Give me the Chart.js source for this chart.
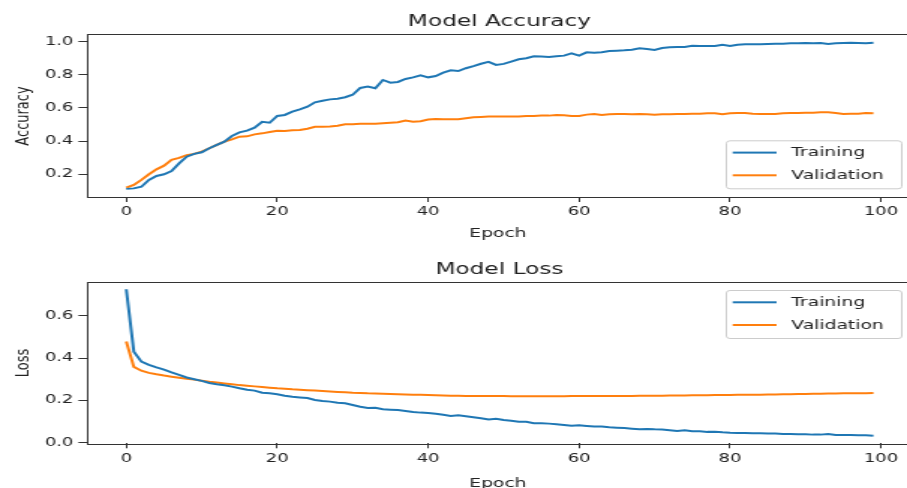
<!DOCTYPE html>
<html><head><meta charset="utf-8">
<script src="https://cdn.jsdelivr.net/npm/chart.js@4.4.1/dist/chart.umd.min.js"></script>
<style>
html,body{margin:0;padding:0;background:#fff;}
#wrap{position:relative;width:907px;height:488px;overflow:hidden;background:#fff;}
canvas{position:absolute;left:0;transform-origin:0 0;transform:scaleX(1.49917);}
#acc{top:0;}
#loss{top:244px;}
</style></head><body>
<div id="wrap">
<canvas id="acc" width="605" height="244"></canvas>
<canvas id="loss" width="605" height="250"></canvas>
</div>
<script>
const epochs = [0,1,2,3,4,5,6,7,8,9,10,11,12,13,14,15,16,17,18,19,20,21,22,23,24,25,26,27,28,29,30,31,32,33,34,35,36,37,38,39,40,41,42,43,44,45,46,47,48,49,50,51,52,53,54,55,56,57,58,59,60,61,62,63,64,65,66,67,68,69,70,71,72,73,74,75,76,77,78,79,80,81,82,83,84,85,86,87,88,89,90,91,92,93,94,95,96,97,98,99];

const accTrain = [0.112,0.115,0.125,0.166,0.19,0.2,0.22,0.266,0.306,0.323,
0.333,0.357,0.377,0.397,0.431,0.453,0.463,0.481,0.517,0.511,
0.552,0.558,0.578,0.592,0.608,0.634,0.644,0.652,0.656,0.665,
0.68,0.721,0.729,0.719,0.769,0.753,0.757,0.775,0.785,0.797,
0.785,0.793,0.813,0.827,0.823,0.84,0.853,0.867,0.878,0.86,
0.866,0.88,0.894,0.9,0.912,0.91,0.908,0.912,0.916,0.93,
0.916,0.936,0.934,0.936,0.944,0.946,0.948,0.952,0.96,0.956,
0.95,0.962,0.966,0.968,0.968,0.976,0.974,0.974,0.974,0.982,
0.974,0.982,0.984,0.984,0.984,0.986,0.988,0.988,0.99,0.99,
0.992,0.99,0.992,0.986,0.99,0.992,0.994,0.992,0.99,0.994];

const accVal = [0.12,0.136,0.166,0.2,0.23,0.252,0.287,0.299,0.315,0.323,
0.337,0.357,0.377,0.397,0.411,0.427,0.429,0.441,0.447,0.455,
0.463,0.461,0.466,0.467,0.475,0.487,0.487,0.489,0.493,0.502,
0.502,0.505,0.505,0.505,0.508,0.511,0.514,0.524,0.517,0.52,
0.53,0.534,0.532,0.532,0.532,0.538,0.544,0.546,0.548,0.548,
0.548,0.548,0.548,0.552,0.552,0.554,0.554,0.558,0.556,0.552,
0.552,0.56,0.564,0.558,0.562,0.564,0.564,0.562,0.564,0.562,
0.56,0.562,0.562,0.564,0.564,0.566,0.566,0.568,0.568,0.562,
0.568,0.57,0.57,0.566,0.564,0.564,0.564,0.568,0.57,0.57,
0.572,0.572,0.574,0.574,0.57,0.564,0.566,0.566,0.57,0.568];

const lossTrain = [0.725,0.43,0.383,0.368,0.356,0.345,0.332,0.32,0.308,0.3,
0.292,0.282,0.276,0.271,0.265,0.257,0.25,0.246,0.236,0.233,
0.229,0.222,0.217,0.214,0.211,0.202,0.197,0.194,0.189,0.186,
0.178,0.17,0.164,0.165,0.158,0.156,0.154,0.15,0.145,0.142,
0.14,0.137,0.132,0.126,0.129,0.125,0.12,0.115,0.11,0.113,
0.107,0.104,0.099,0.099,0.092,0.092,0.09,0.087,0.084,0.08,
0.082,0.079,0.076,0.076,0.073,0.071,0.069,0.066,0.063,0.065,
0.063,0.062,0.059,0.055,0.059,0.054,0.054,0.051,0.052,0.049,
0.047,0.046,0.046,0.044,0.044,0.043,0.043,0.041,0.041,0.04,
0.04,0.038,0.038,0.041,0.036,0.036,0.036,0.035,0.035,0.033];

const lossVal = [0.478,0.358,0.34,0.33,0.323,0.317,0.312,0.307,0.302,0.298,
0.293,0.288,0.284,0.28,0.276,0.272,0.269,0.266,0.263,0.26,
0.257,0.255,0.252,0.25,0.248,0.246,0.244,0.242,0.24,0.238,
0.236,0.235,0.233,0.232,0.231,0.23,0.229,0.228,0.227,0.226,
0.225,0.224,0.223,0.222,0.222,0.221,0.221,0.221,0.22,0.22,
0.22,0.219,0.219,0.219,0.219,0.219,0.219,0.219,0.219,0.22,
0.22,0.22,0.22,0.22,0.221,0.221,0.221,0.221,0.222,0.222,
0.222,0.222,0.223,0.223,0.223,0.224,0.224,0.224,0.225,0.225,
0.225,0.226,0.226,0.227,0.227,0.228,0.228,0.229,0.229,0.23,
0.23,0.231,0.231,0.232,0.232,0.233,0.233,0.234,0.234,0.235];

const xTicks = [0,20,40,60,80,100];
const accYTicks = [0.2,0.4,0.6,0.8,1.0];
const lossYTicks = [0.0,0.2,0.4,0.6];
const seriesLabels = ['Training','Validation'];
const seriesColors = ['#1f77b4','#ff7f0e'];

const FAMILY = '"DejaVu Sans", sans-serif';
const TEXT = '#222';
const SPINE = '#333';

const boxPlugin = {
  id: 'box',
  afterDatasetsDraw(chart) {
    const {ctx, chartArea: a} = chart;
    ctx.save();
    ctx.strokeStyle = SPINE;
    ctx.lineWidth = 1;
    ctx.strokeRect(Math.round(a.left) - 0.5, Math.round(a.top) - 0.5, a.right - a.left + 4, Math.round(a.bottom - a.top) + 1);
    ctx.restore();
  }
};

const titlePlugin = {
  id: 'mtitle',
  afterDraw(chart, args, opts) {
    const {ctx, chartArea: a} = chart;
    ctx.save();
    ctx.font = `15.5px ${FAMILY}`;
    ctx.fillStyle = TEXT;
    ctx.textAlign = 'center';
    ctx.textBaseline = 'alphabetic';
    ctx.fillText(opts.text, (a.left + a.right + 2) / 2, opts.baseline);
    ctx.restore();
  }
};

const legendPlugin = {
  id: 'mlegend',
  afterDraw(chart, args, opts) {
    const {ctx, chartArea: a} = chart;
    const w = 117, h = 48;
    const x = a.right - 4 - w;
    const y = opts.anchor === 'top' ? a.top + opts.offset : a.bottom - opts.offset - h;
    ctx.save();
    ctx.beginPath();
    ctx.roundRect(x + 0.5, y + 0.5, w, h, 2.5);
    ctx.fillStyle = 'rgba(255,255,255,0.8)';
    ctx.fill();
    ctx.strokeStyle = '#cccccc';
    ctx.lineWidth = 1;
    ctx.stroke();
    ctx.font = `12.5px ${FAMILY}`;
    ctx.textBaseline = 'middle';
    ctx.textAlign = 'left';
    chart.data.datasets.forEach((ds, i) => {
      const ry = y + [12.3, 35][i];
      ctx.strokeStyle = ds.borderColor;
      ctx.lineWidth = 2;
      ctx.beginPath();
      ctx.moveTo(x + 4.7, ry);
      ctx.lineTo(x + 34, ry);
      ctx.stroke();
      ctx.fillStyle = TEXT;
      ctx.fillText(ds.label, x + 43.8, ry + 0.5);
    });
    ctx.restore();
  }
};

function makeChart(id, cfg) {
  const datasets = cfg.series.map((vals, i) => ({
    label: seriesLabels[i],
    data: vals.map((v, j) => ({x: epochs[j], y: v})),
    borderColor: seriesColors[i],
    backgroundColor: seriesColors[i],
    borderWidth: 2,
    pointRadius: 0,
    tension: 0,
    fill: false
  }));
  const gridCommon = {drawOnChartArea: false, drawTicks: true, tickColor: SPINE, tickWidth: 1};
  return new Chart(document.getElementById(id), {
    type: 'line',
    data: {datasets},
    plugins: [boxPlugin, titlePlugin, legendPlugin],
    options: {
      responsive: false,
      animation: false,
      devicePixelRatio: 1,
      layout: {padding: {top: cfg.top, left: 0, right: 0, bottom: 0}},
      plugins: {
        legend: {display: false},
        tooltip: {enabled: false},
        title: {display: false},
        mtitle: {text: cfg.title, baseline: cfg.titleBaseline},
        mlegend: {anchor: cfg.legendAnchor, offset: cfg.legendOffset}
      },
      scales: {
        x: {
          type: 'linear',
          min: -4.95,
          max: 103.45,
          afterBuildTicks: s => { s.ticks = xTicks.map(v => ({value: v})); },
          afterFit: s => { s.height = cfg.xHeight; },
          grid: Object.assign({tickLength: 5}, gridCommon),
          border: {display: false},
          ticks: {font: {family: FAMILY, size: 12}, color: TEXT, padding: 3, maxRotation: 0, autoSkip: false,
                  callback: v => String(v)},
          title: {display: true, text: 'Epoch', font: {family: FAMILY, size: 12.5}, color: TEXT,
                  padding: {top: 0, bottom: 2.8}}
        },
        y: {
          type: 'linear',
          min: cfg.yMin,
          max: cfg.yMax,
          afterBuildTicks: s => { s.ticks = cfg.yTicks.map(v => ({value: v})); },
          afterFit: s => { s.width = 59.3; },
          grid: Object.assign({tickLength: 7}, gridCommon),
          border: {display: false},
          ticks: {font: {family: FAMILY, size: 12}, color: TEXT, padding: 3.3, autoSkip: false,
                  callback: v => Number(v).toFixed(1)},
          title: {display: true, text: cfg.yLabel, font: {family: FAMILY, size: 13}, color: TEXT,
                  padding: {top: 7.7, bottom: 0}}
        }
      }
    }
  });
}

makeChart('acc', {
  series: [accTrain, accVal], title: 'Model Accuracy', titleBaseline: 25.7, top: 35,
  xHeight: 47, yMin: 0.063, yMax: 1.0404, yTicks: accYTicks, yLabel: 'Accuracy',
  legendAnchor: 'bottom', legendOffset: 8.7
});
makeChart('loss', {
  series: [lossTrain, lossVal], title: 'Model Loss', titleBaseline: 30, top: 38.7,
  xHeight: 50.7, yMin: -0.003, yMax: 0.756, yTicks: lossYTicks, yLabel: 'Loss',
  legendAnchor: 'top', legendOffset: 7.3
});
</script>
</body></html>
